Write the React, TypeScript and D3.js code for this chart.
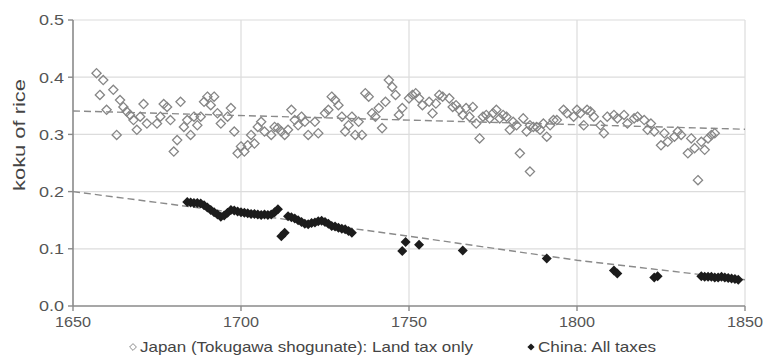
import React from 'react';
import * as d3 from 'd3';

// Japan (Tokugawa shogunate): land tax only, koku of rice
const japanYears = [
  1657, 1658, 1659, 1660, 1662, 1663, 1664, 1665, 1666, 1667, 1668, 1669, 1670, 1671, 1672,
  1675, 1676, 1677, 1678, 1679, 1680, 1681, 1682, 1683, 1684, 1685, 1686, 1687, 1688, 1689,
  1690, 1691, 1692, 1693, 1694, 1696, 1697, 1698, 1699, 1700, 1701, 1702, 1703, 1704, 1705,
  1706, 1707, 1709, 1710, 1711, 1712, 1713, 1714, 1715, 1716, 1717, 1718, 1719, 1720, 1722,
  1723, 1725, 1726, 1727, 1728, 1729, 1730, 1731, 1732, 1733, 1734, 1735, 1736, 1737, 1738,
  1739, 1740, 1741, 1742, 1743, 1744, 1745, 1746, 1747, 1748, 1750, 1751, 1752, 1753, 1754,
  1756, 1757, 1758, 1759, 1760, 1762, 1763, 1764, 1765, 1766, 1767, 1768, 1769, 1770, 1771,
  1772, 1773, 1774, 1775, 1776, 1777, 1778, 1779, 1780, 1781, 1782, 1783, 1784, 1785, 1786,
  1786, 1787, 1788, 1789, 1790, 1791, 1792, 1793, 1794, 1796, 1797, 1799, 1800, 1801, 1802,
  1803, 1804, 1805, 1807, 1808, 1809, 1811, 1812, 1814, 1815, 1817, 1818, 1820, 1821, 1822,
  1823, 1825, 1826, 1827, 1829, 1830, 1831, 1833, 1834, 1835, 1836, 1837, 1838, 1839, 1840,
  1841,
];
const japanValues = [
  0.407, 0.369, 0.395, 0.343, 0.378, 0.299, 0.36, 0.348, 0.34, 0.334, 0.325, 0.308, 0.331, 0.353, 0.319,
  0.319, 0.331, 0.353, 0.348, 0.325, 0.27, 0.29, 0.357, 0.313, 0.325, 0.299, 0.331, 0.316, 0.331, 0.357,
  0.366, 0.351, 0.366, 0.337, 0.319, 0.331, 0.346, 0.305, 0.267, 0.279, 0.27, 0.281, 0.299, 0.284, 0.313,
  0.322, 0.305, 0.299, 0.313, 0.311, 0.305, 0.299, 0.308, 0.343, 0.325, 0.316, 0.331, 0.322, 0.299, 0.322,
  0.302, 0.337, 0.343, 0.366, 0.36, 0.351, 0.331, 0.305, 0.316, 0.331, 0.299, 0.322, 0.299, 0.372, 0.366,
  0.337, 0.331, 0.346, 0.311, 0.357, 0.395, 0.383, 0.369, 0.334, 0.346, 0.363, 0.369, 0.372, 0.363, 0.351,
  0.357, 0.337, 0.354, 0.369, 0.366, 0.363, 0.348, 0.351, 0.343, 0.334, 0.346, 0.331, 0.348, 0.319, 0.293,
  0.331, 0.334, 0.328, 0.337, 0.343, 0.328, 0.334, 0.331, 0.308, 0.322, 0.316, 0.267, 0.328, 0.305, 0.316,
  0.235, 0.313, 0.313, 0.308, 0.319, 0.296, 0.316, 0.325, 0.325, 0.343, 0.337, 0.331, 0.343, 0.337, 0.316,
  0.343, 0.34, 0.331, 0.316, 0.302, 0.331, 0.334, 0.328, 0.334, 0.319, 0.328, 0.331, 0.325, 0.308, 0.319,
  0.305, 0.281, 0.302, 0.287, 0.296, 0.305, 0.299, 0.267, 0.293, 0.276, 0.22, 0.287, 0.273, 0.293, 0.299,
  0.302,
];

// China: all taxes, koku of rice
const chinaYears = [
  1684, 1685, 1686, 1687, 1688, 1689, 1690, 1691, 1692, 1693, 1694, 1695, 1696, 1697, 1698,
  1699, 1700, 1701, 1702, 1703, 1704, 1705, 1706, 1707, 1708, 1709, 1710, 1711, 1712, 1713,
  1714, 1715, 1716, 1717, 1718, 1719, 1720, 1721, 1722, 1723, 1724, 1725, 1726, 1727, 1728,
  1729, 1730, 1731, 1732, 1733, 1748, 1749, 1753, 1766, 1791, 1811, 1812, 1823, 1824, 1837,
  1838, 1839, 1840, 1841, 1842, 1843, 1844, 1845, 1846, 1847, 1848,
];
const chinaValues = [
  0.182, 0.181, 0.18, 0.18, 0.179, 0.176, 0.172, 0.168, 0.164, 0.16, 0.156, 0.158, 0.163, 0.168, 0.167,
  0.165, 0.164, 0.163, 0.162, 0.161, 0.161, 0.16, 0.159, 0.16, 0.159, 0.16, 0.164, 0.169, 0.122, 0.128,
  0.157, 0.155, 0.153, 0.15, 0.147, 0.144, 0.143, 0.145, 0.146, 0.148, 0.149, 0.147, 0.144, 0.14, 0.139,
  0.137, 0.135, 0.134, 0.131, 0.128, 0.096, 0.112, 0.107, 0.097, 0.083, 0.062, 0.057, 0.05, 0.052, 0.052,
  0.051, 0.051, 0.051, 0.05, 0.05, 0.051, 0.05, 0.049, 0.048, 0.047, 0.046,
];

// dashed trend lines
const japanTrendYears = [1650, 1850];
const japanTrendValues = [0.341, 0.309];
const chinaTrendYears = [1650, 1700, 1750, 1800, 1850];
const chinaTrendValues = [0.2, 0.162, 0.122, 0.08, 0.046];

const xTicks = [1650, 1700, 1750, 1800, 1850];
const yTicks = [0, 0.1, 0.2, 0.3, 0.4, 0.5];

const W = 765;
const H = 359;
const FONT = '"Liberation Sans", Arial, sans-serif';

export default function App() {
  const x = d3.scaleLinear().domain([1650, 1850]).range([73, 745]);
  const y = d3.scaleLinear().domain([0, 0.5]).range([306, 20]);

  const line = d3
    .line<[number, number]>()
    .x((d) => x(d[0]))
    .y((d) => y(d[1]));

  const japanTrend = line(japanTrendYears.map((yr, i) => [yr, japanTrendValues[i]]));
  const chinaTrend = line(chinaTrendYears.map((yr, i) => [yr, chinaTrendValues[i]]));

  const diamond = (cx: number, cy: number, r: number) =>
    `M${cx},${cy - r}L${cx + r},${cy}L${cx},${cy + r}L${cx - r},${cy}Z`;

  const [x0, x1] = x.range();
  const [y0, y1] = y.range();

  return (
    <svg
      width={W}
      height={H}
      style={{ position: 'absolute', left: 0, top: 0, background: '#fff' }}
      fontFamily={FONT}
    >
      {/* grid */}
      {yTicks.slice(1).map((t) => (
        <line key={'gy' + t} x1={x0} x2={x1} y1={y(t)} y2={y(t)} stroke="#dcdcdc" strokeWidth={1.2} />
      ))}
      {xTicks.slice(1).map((t) => (
        <line key={'gx' + t} x1={x(t)} x2={x(t)} y1={y1} y2={y0} stroke="#dcdcdc" strokeWidth={1.2} />
      ))}

      {/* axes */}
      <line x1={x0} x2={x0} y1={y1} y2={y0} stroke="#8a8a8a" strokeWidth={1.6} />
      <line x1={x0} x2={x1} y1={y0} y2={y0} stroke="#8a8a8a" strokeWidth={1.6} />
      {yTicks.map((t) => (
        <g key={'ty' + t}>
          <line x1={x0 - 5} x2={x0} y1={y(t)} y2={y(t)} stroke="#8a8a8a" strokeWidth={1.4} />
          <text x={x0 - 9} y={y(t)} dy="0.36em" textAnchor="end" fontSize={15} fill="#555"
            textLength={25} lengthAdjust="spacingAndGlyphs">
            {d3.format('.1f')(t)}
          </text>
        </g>
      ))}
      {xTicks.map((t) => (
        <g key={'tx' + t}>
          <line x1={x(t)} x2={x(t)} y1={y0} y2={y0 + 5} stroke="#8a8a8a" strokeWidth={1.4} />
          <text x={x(t)} y={y0 + 21} textAnchor="middle" fontSize={15} fill="#555"
            textLength={36} lengthAdjust="spacingAndGlyphs">
            {t}
          </text>
        </g>
      ))}
      <text
        transform="translate(25,135) rotate(-90)"
        textAnchor="middle"
        fontSize={17}
        fill="#444"
        textLength={112}
        lengthAdjust="spacingAndGlyphs"
      >
        koku of rice
      </text>

      {/* trends */}
      <path d={japanTrend ?? ''} fill="none" stroke="#8a8a8a" strokeWidth={1.4} strokeDasharray="7,4" />
      <path d={chinaTrend ?? ''} fill="none" stroke="#8a8a8a" strokeWidth={1.4} strokeDasharray="7,4" />

      {/* Japan: open diamonds */}
      {japanYears.map((yr, i) => (
        <path
          key={'j' + i}
          d={diamond(x(yr), y(japanValues[i]), 4.6)}
          fill="none"
          stroke="#868686"
          strokeWidth={1.3}
        />
      ))}

      {/* China: filled diamonds */}
      {chinaYears.map((yr, i) => (
        <path key={'c' + i} d={diamond(x(yr), y(chinaValues[i]), 5)} fill="#1c1c1c" />
      ))}

      {/* legend */}
      <g fontSize={14.5} fill="#444">
        <path d={diamond(133, 347, 3.4)} fill="none" stroke="#8c8c8c" strokeWidth={1} />
        <text x={140} y={352} textLength={333} lengthAdjust="spacingAndGlyphs">
          Japan (Tokugawa shogunate): Land tax only
        </text>
        <path d={diamond(531, 347, 3.6)} fill="#1c1c1c" />
        <text x={538} y={352} textLength={118} lengthAdjust="spacingAndGlyphs">
          China: All taxes
        </text>
      </g>
    </svg>
  );
}
